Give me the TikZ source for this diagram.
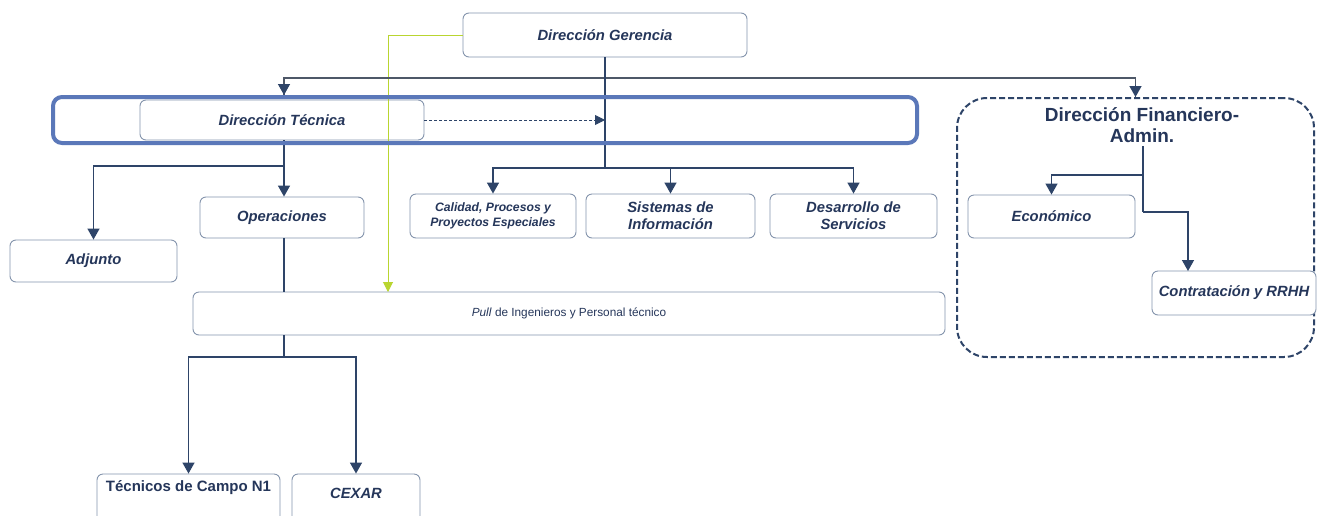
\documentclass[tikz,border=0pt]{standalone}
\usepackage{fontspec}
\setmainfont{Liberation Sans}
\usetikzlibrary{arrows.meta}
\definecolor{navy}{HTML}{25365A}
\definecolor{boxline}{HTML}{8595AD}
\definecolor{bandcol}{HTML}{5B78B9}
\definecolor{conncol}{HTML}{2E4468}
\definecolor{topline}{HTML}{4E5868}
\definecolor{yelcol}{HTML}{B9D530}
\begin{document}
\begin{tikzpicture}[x=1pt,y=-1pt,
  box/.style={draw=boxline, line width=0.9pt, rounded corners=6pt, fill=white, inner sep=0pt, align=center, text=navy},
  bi/.style={font=\bfseries\itshape\fontsize{14.8}{17}\selectfont},
  bis/.style={font=\bfseries\itshape\fontsize{12.2}{15}\selectfont},
  conn/.style={draw=conncol, line width=1.4pt},
  arr/.style={conn, -{Triangle[width=12pt,length=11pt]}}]
\clip (0,0) rectangle (1317,515);
\fill[white] (0,0) rectangle (1317,515);

% nodes
\node[box, bi, minimum width=284pt, minimum height=44pt] (ger) at (605,35) {Dirección Gerencia};
\node[box, bi, minimum width=284pt, minimum height=40pt] (dtec) at (282,120) {Dirección Técnica};
\node[box, bis, minimum width=166pt, minimum height=44pt] (cal) at (493,216) {Calidad, Procesos y\\Proyectos Especiales};
\node[box, bi, minimum width=169pt, minimum height=44pt] (sis) at (670.5,216) {Sistemas de\\Información};
\node[box, bi, minimum width=167pt, minimum height=44pt] (des) at (853.5,216) {Desarrollo de\\Servicios};
\node[box, bi, minimum width=164pt, minimum height=41pt] (op) at (282,217.5) {Operaciones};
\node[box, bi, minimum width=167pt, minimum height=42pt] (adj) at (93.5,261) {Adjunto};
\node[box, minimum width=752pt, minimum height=43pt, font=\fontsize{11.8}{14}\selectfont] (pull) at (569,313.5) {\textit{Pull} de Ingenieros y Personal técnico};
\node[box, minimum width=183pt, minimum height=56pt] (tec) at (188.5,502) {};
\node[text=navy, font=\bfseries\fontsize{15}{17}\selectfont] (tectxt) at (188.5,488) {Técnicos de Campo N1};
\node[box, minimum width=128pt, minimum height=56pt] (cex) at (356,502) {};
\node[text=navy, bi] (cextxt) at (356,493) {CEXAR};
\node[draw=conncol, line width=2pt, dash pattern=on 6pt off 3pt, rounded corners=30pt, minimum width=357pt, minimum height=259pt, inner sep=0pt] (fin) at (1135.5,227.5) {};
\node[text=navy, align=center, font=\bfseries\fontsize{19}{21}\selectfont] (fint) at (1142,125) {Dirección Financiero-\\Admin.};
\node[box, bi, minimum width=167pt, minimum height=43pt] (eco) at (1051.5,216.5) {Económico};
\node[box, bi, minimum width=164pt, minimum height=44pt] (con) at (1234,293) {Contratación y RRHH};

% coordinates
\coordinate (t1) at (605,78);
\coordinate (tl) at (284,95);
\coordinate (h1) at (605,168);
\coordinate (h2) at (284,166);
\coordinate (h3) at (284,357);
\coordinate (ytip) at (388,292);
\coordinate (f1) at (1143,175);
\coordinate (f2) at (1143,212);
\coordinate (f3) at (1188,271);

% yellow line
\draw[yelcol, line width=1pt, -{Triangle[width=10pt,length=10pt]}] (ger.west) -| (ytip);

% top distribution line
\draw[topline, line width=1.4pt] (t1) -| (tl);
\draw[arr] (284,85) -- (tl);
\draw[topline, line width=1.4pt] (t1) -| (fin.north);
\draw[arr] (fin.north |- 0,85) -- (fin.north);

% gerencia down
\draw[conn] (ger.south) -- (h1);
\draw[arr] (h1) -| (cal.north);
\draw[arr] (h1) -| (sis.north);
\draw[arr] (h1) -| (des.north);

% dashed arrow
\draw[conncol, line width=0.9pt, dash pattern=on 3pt off 2pt, -{Triangle[width=10pt,length=10pt]}] (dtec.east) -- (dtec.east -| ger.south);

% direccion tecnica down
\draw[arr] (dtec.south -| h2) -- (op.north -| h2);
\draw[arr] (h2) -| (adj.north);
\draw[conn] (op.south -| h2) -- (pull.north -| h2);

% pull down
\draw[conn] (pull.south -| h3) -- (h3);
\draw[arr] (h3) -| (tec.north);
\draw[arr] (h3) -| (cex.north);

% financiero
\draw[conn] (fint.south -| f1) -- (f2);
\draw[arr] (f1) -| (eco.north);
\draw[arr] (f2) -| (f3);

% blue band
\node[draw=bandcol, line width=4pt, rounded corners=9pt, minimum width=864pt, minimum height=46pt, inner sep=0pt] (band) at (485,120) {};
\end{tikzpicture}
\end{document}
